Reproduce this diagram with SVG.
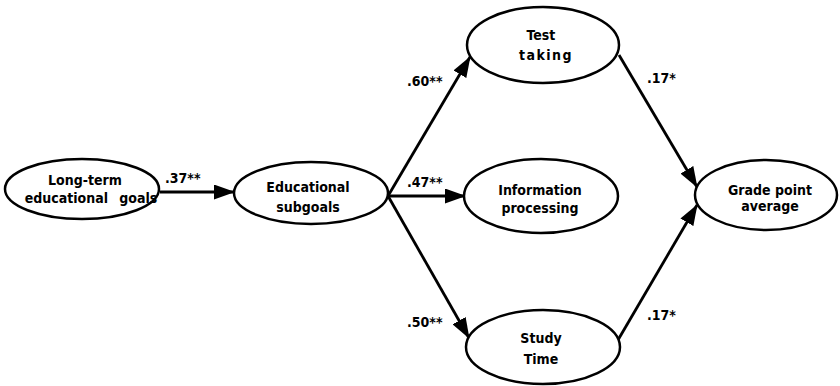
<svg xmlns="http://www.w3.org/2000/svg" width="840" height="386" viewBox="0 0 840 386">
<style>
.node ellipse{fill:#fff;stroke:#000;stroke-width:2.5}
.node text{font-family:"DejaVu Sans Condensed","DejaVu Sans","Liberation Sans",sans-serif;font-weight:bold;font-size:14px;text-anchor:middle;fill:#000}
.edges line{stroke:#000;stroke-width:2.8;fill:none}
.lbl{font-family:"DejaVu Sans Condensed","DejaVu Sans","Liberation Sans",sans-serif;font-weight:bold;font-size:14px;fill:#000}
</style>
<defs>
<marker id="arr" markerUnits="userSpaceOnUse" markerWidth="21" markerHeight="15" refX="20" refY="7.5" orient="auto">
<path d="M0,0 L21,7.5 L0,15 z" fill="#000"/>
</marker>
</defs>
<rect width="840" height="386" fill="#fff"/>
<g class="edges" id="connectors">
<line x1="160" y1="192" x2="234" y2="192" marker-end="url(#arr)"/>
<line x1="388" y1="196" x2="470" y2="57" marker-end="url(#arr)"/>
<line x1="388" y1="196" x2="465" y2="196" marker-end="url(#arr)"/>
<line x1="388" y1="196" x2="469" y2="338" marker-end="url(#arr)"/>
<line x1="619" y1="55" x2="697" y2="187" marker-end="url(#arr)"/>
<line x1="618" y1="340" x2="697" y2="205" marker-end="url(#arr)"/>
<text class="lbl" x="165" y="183">.37**</text>
<text class="lbl" x="407" y="86">.60**</text>
<text class="lbl" x="407" y="187">.47**</text>
<text class="lbl" x="407" y="327">.50**</text>
<text class="lbl" x="647" y="83">.17*</text>
<text class="lbl" x="647" y="320">.17*</text>
</g>
<g class="node" id="longterm">
<ellipse cx="82" cy="189" rx="77" ry="30"/>
<text x="85" y="185">Long-term</text>
<text x="91" y="203" style="word-spacing:7px">educational goals</text>
</g>
<g class="node" id="subgoals">
<ellipse cx="311" cy="193" rx="77" ry="31"/>
<text x="308" y="192">Educational</text>
<text x="308" y="212">subgoals</text>
</g>
<g class="node" id="testtaking">
<ellipse cx="543" cy="45" rx="76" ry="38"/>
<text x="541" y="40">Test</text>
<text x="546" y="60" style="letter-spacing:1.5px">taking</text>
</g>
<g class="node" id="infoproc">
<ellipse cx="541" cy="196" rx="77" ry="37"/>
<text x="540" y="195">Information</text>
<text x="540" y="213">processing</text>
</g>
<g class="node" id="studytime">
<ellipse cx="543" cy="347" rx="77" ry="37"/>
<text x="541" y="343">Study</text>
<text x="541" y="364">Time</text>
</g>
<g class="node" id="gpa">
<ellipse cx="766" cy="195" rx="71" ry="35"/>
<text x="770" y="195">Grade point</text>
<text x="770" y="211">average</text>
</g>
</svg>
